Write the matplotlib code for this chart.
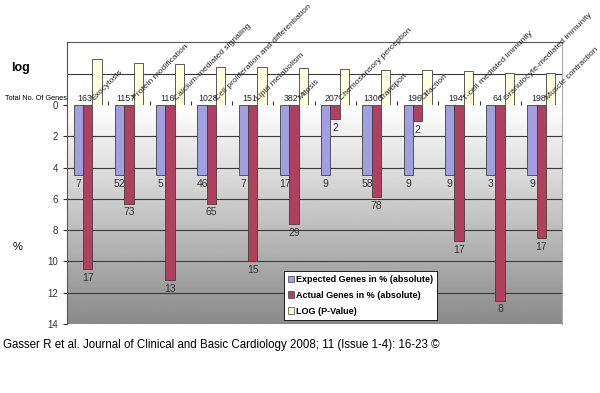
import numpy as np
import matplotlib
matplotlib.use("Agg")
import matplotlib.pyplot as plt
from matplotlib.patches import Patch

plt.rcParams["font.family"] = ["Liberation Sans", "DejaVu Sans"]

categories = ["Exocytosis", "Protein modification", "Calcium-mediated signaling",
              "Cell proliferation and differentiation", "Lipid metabolism", "Mitosis",
              "Chemosensory perception", "Transport", "Olfaction",
              "T-cell mediated immunity", "Granulocyte-mediated immunity", "Muscle contraction"]
total_genes = [163, 1157, 116, 1028, 151, 382, 207, 1306, 196, 194, 64, 198]
expected_pct = [4.5] * 12
expected_abs = [7, 52, 5, 46, 7, 17, 9, 58, 9, 9, 3, 9]
actual_pct = [10.5, 6.3, 11.2, 6.3, 10.0, 7.6, 0.9, 5.9, 1.0, 8.7, 12.5, 8.5]
actual_abs = [17, 73, 13, 65, 15, 29, 2, 78, 2, 17, 8, 17]
log_p = [1.45, 1.32, 1.29, 1.2, 1.2, 1.16, 1.15, 1.12, 1.1, 1.07, 1.03, 1.03]

blue = "#a29fe0"
red = "#b0405f"
cream = "#ffffe0"
edge = "#404040"

fig = plt.figure(figsize=(6, 3.93), dpi=100)
ax = fig.add_axes([67/600, 1-324/393, 495/600, 219/393])
top = fig.add_axes([67/600, 1-105/393, 495/600, 63/393])

x = np.arange(len(categories))
w = 0.225

# lower panel: gradient background
grad = np.linspace(1.0, 0.54, 256).reshape(-1, 1)
ax.imshow(grad, cmap="gray", vmin=0, vmax=1, aspect="auto",
          extent=[-0.5, len(categories)-0.5, 14, 0], zorder=0)
for yv in range(2, 14, 2):
    ax.axhline(yv, color="#3a3a3a", lw=0.8, zorder=1)

ax.bar(x - w, expected_pct, w, color=blue, edgecolor=edge, lw=0.6, zorder=2)
ax.bar(x, actual_pct, w, color=red, edgecolor=edge, lw=0.6, zorder=2)
for i in range(len(categories)):
    ax.text(x[i] - w, expected_pct[i] + 0.25, str(expected_abs[i]), ha="center", va="top",
            fontsize=7.5, color="#333333", zorder=3)
    ax.text(x[i], actual_pct[i] + 0.25, str(actual_abs[i]), ha="center", va="top",
            fontsize=7.5, color="#333333", zorder=3)

ax.set_xlim(-0.5, len(categories) - 0.5)
ax.set_ylim(14, 0)
ax.set_yticks(range(0, 16, 2))
ax.tick_params(axis="y", labelsize=7, length=3, colors="#333333")
ax.set_xticks([])
for s in ["top", "bottom"]:
    ax.spines[s].set_visible(False)
ax.spines["left"].set_color("#555555")
ax.spines["right"].set_color("#aaaaaa")
ax.text(-0.099, 0.35, "%", transform=ax.transAxes, fontsize=8, ha="center", va="center")

handles = [Patch(facecolor=blue, edgecolor=edge, lw=0.5),
           Patch(facecolor=red, edgecolor=edge, lw=0.5),
           Patch(facecolor=cream, edgecolor=edge, lw=0.5)]
leg = ax.legend(handles, ["Expected Genes in % (absolute)", "Actual Genes in % (absolute)",
                          "LOG (P-Value)"],
                loc="lower left", bbox_to_anchor=(0.438, 0.02), fancybox=False,
                framealpha=1, edgecolor="black", handlelength=0.7, handleheight=0.7,
                handletextpad=0.2, borderpad=0.45, labelspacing=0.75, borderaxespad=0,
                prop={"size": 6.5, "weight": "bold"})
leg.get_frame().set_linewidth(0.6)

# upper panel: log p-values
top.bar(x + w, log_p, w, color=cream, edgecolor=edge, lw=0.6, zorder=2)
top.axhline(1, color="#3a3a3a", lw=0.8, zorder=1)
top.set_xlim(-0.5, len(categories) - 0.5)
top.set_ylim(0, 2)
top.set_yticks([])
top.set_xticks(np.arange(0.5, len(categories) - 0.5), minor=False)
top.tick_params(axis="x", direction="in", length=3, labelbottom=False, color="#333333")
top.spines["bottom"].set_visible(False)
top.spines["left"].set_color("#555555")
top.spines["top"].set_color("#555555")
top.spines["right"].set_color("#aaaaaa")
top.text(-0.093, 0.58, "log", transform=top.transAxes, fontsize=9, fontweight="bold",
         ha="center", va="center")
top.text(-0.125, 0.1, "Total No. Of Genes", transform=top.transAxes, fontsize=5.3,
         ha="left", va="center")
for i in range(len(categories)):
    top.text(x[i] - 0.07, 0.2, str(total_genes[i]), ha="center", va="center",
             fontsize=6.3, color="#222222", zorder=3)
    top.text(x[i] + 0.13, 0.18, categories[i], rotation=45, ha="left", va="center",
             rotation_mode="anchor", fontsize=6.1, color="#222222", zorder=3, clip_on=False)

fig.text(0.005, 1 - 345/393, "Gasser R et al. Journal of Clinical and Basic Cardiology 2008; 11 (Issue 1-4): 16-23 \u00a9",
         fontsize=8.3, ha="left", va="center")

fig.savefig("out.png", dpi=100)
